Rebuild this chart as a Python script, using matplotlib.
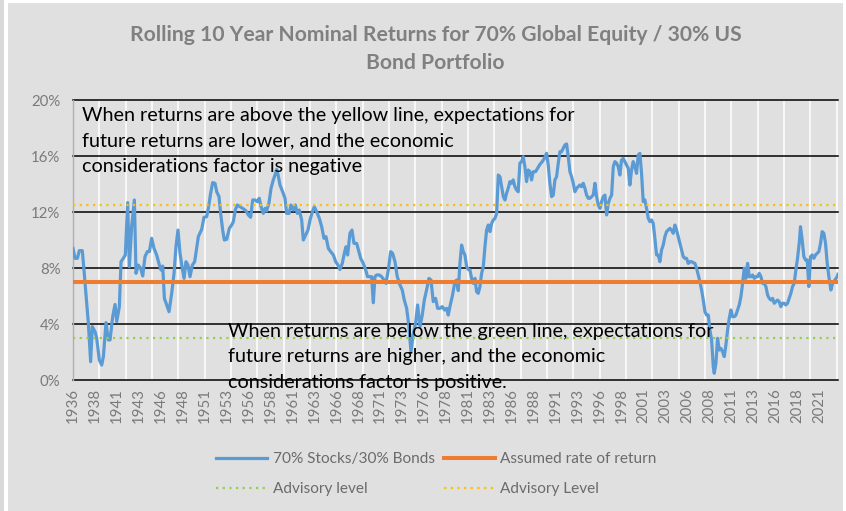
import matplotlib
matplotlib.use("Agg")
import matplotlib.pyplot as plt
from matplotlib.patches import Rectangle
from matplotlib.lines import Line2D

# ---------------- data ----------------
years = [
    1936.00, 1936.23, 1936.50, 1936.72, 1937.06, 1937.25, 1937.56, 1937.75, 1938.01, 1938.20,
    1938.51, 1938.70, 1939.00, 1939.27, 1939.46, 1939.76, 1940.03, 1940.22, 1940.52, 1940.79,
    1940.98, 1941.28, 1941.47, 1941.73, 1941.96, 1942.23, 1942.42, 1942.68, 1942.99, 1943.18,
    1943.44, 1943.71, 1943.94, 1944.20, 1944.47, 1944.70, 1944.96, 1945.23, 1945.53, 1945.84,
    1946.03, 1946.22, 1946.41, 1946.67, 1946.94, 1947.24, 1947.51, 1947.73, 1947.96, 1948.19,
    1948.42, 1948.65, 1948.87, 1949.10, 1949.33, 1949.60, 1949.86, 1950.28, 1950.66, 1950.92,
    1951.23, 1951.42, 1951.68, 1951.91, 1952.18, 1952.37, 1952.63, 1952.82, 1953.05, 1953.24,
    1953.51, 1953.81, 1954.08, 1954.27, 1954.49, 1954.72, 1955.03, 1955.33, 1955.59, 1955.78,
    1955.97, 1956.24, 1956.47, 1956.73, 1957.00, 1957.22, 1957.42, 1957.68, 1957.87, 1958.06,
    1958.33, 1958.56, 1958.82, 1959.01, 1959.20, 1959.39, 1959.58, 1959.88, 1960.15, 1960.34,
    1960.61, 1960.83, 1961.10, 1961.33, 1961.56, 1961.78, 1962.05, 1962.24, 1962.51, 1962.77,
    1963.00, 1963.27, 1963.49, 1963.76, 1964.06, 1964.33, 1964.59, 1964.82, 1965.09, 1965.35,
    1965.66, 1965.92, 1966.19, 1966.41, 1966.68, 1966.91, 1967.10, 1967.29, 1967.55, 1967.78,
    1968.01, 1968.31, 1968.54, 1968.77, 1969.07, 1969.34, 1969.56, 1969.83, 1970.02, 1970.21,
    1970.40, 1970.59, 1970.90, 1971.16, 1971.43, 1971.65, 1971.92, 1972.19, 1972.41, 1972.68,
    1972.94, 1973.25, 1973.51, 1973.74, 1974.01, 1974.27, 1974.50, 1974.77, 1975.03, 1975.26,
    1975.53, 1975.79, 1976.02, 1976.28, 1976.55, 1976.78, 1977.04, 1977.31, 1977.54, 1977.80,
    1978.07, 1978.33, 1978.56, 1978.75, 1978.94,
    1979.24, 1979.51, 1979.70, 1979.89, 1980.08, 1980.27, 1980.46, 1980.65, 1980.84, 1981.03,
    1981.22, 1981.41, 1981.60, 1981.79, 1981.98, 1982.17, 1982.36, 1982.55, 1982.74, 1982.93,
    1983.12, 1983.31, 1983.50, 1983.69, 1983.88, 1984.07, 1984.26, 1984.45, 1984.64, 1984.83,
    1985.02, 1985.21, 1985.39, 1985.58, 1985.77, 1985.96, 1986.15, 1986.34, 1986.53, 1986.72,
    1986.91, 1987.10, 1987.29, 1987.48, 1987.67, 1987.86, 1988.05, 1988.24, 1988.43, 1988.70,
    1988.93, 1989.19, 1989.46, 1989.69, 1989.95, 1990.14, 1990.33, 1990.52, 1990.71, 1990.90,
    1991.09, 1991.28, 1991.47, 1991.66, 1991.85, 1992.04, 1992.23, 1992.42, 1992.61, 1992.80,
    1992.99, 1993.18, 1993.37, 1993.56, 1993.75, 1993.94, 1994.13, 1994.32, 1994.51, 1994.70,
    1994.89, 1995.08, 1995.27, 1995.46, 1995.65, 1995.84, 1996.03, 1996.22, 1996.41, 1996.60,
    1996.79, 1996.98, 1997.17, 1997.36, 1997.55, 1997.74, 1997.93, 1998.11, 1998.30, 1998.49,
    1998.68, 1998.87, 1999.06, 1999.25, 1999.44, 1999.63, 1999.82, 2000.01, 2000.20, 2000.39,
    2000.58, 2000.77, 2000.96, 2001.15, 2001.34, 2001.53, 2001.72, 2001.91, 2002.10, 2002.29,
    2002.48, 2002.67, 2002.86, 2003.05, 2003.24, 2003.43, 2003.62, 2003.81, 2004.00, 2004.19,
    2004.38, 2004.57, 2004.76, 2004.95, 2005.14, 2005.33, 2005.52, 2005.71, 2005.90, 2006.09,
    2006.28, 2006.47, 2006.66, 2006.85, 2007.04, 2007.23, 2007.42, 2007.61, 2007.80, 2007.99,
    2008.18, 2008.37, 2008.56, 2008.75, 2008.94, 2009.05, 2009.24, 2009.43, 2009.62, 2009.81,
    2010.00, 2010.19, 2010.38, 2010.57, 2010.76, 2010.95, 2011.14, 2011.33, 2011.52, 2011.71,
    2011.90, 2012.09, 2012.28, 2012.47, 2012.66, 2012.85, 2013.04, 2013.23, 2013.42, 2013.61,
    2013.80, 2013.99, 2014.18, 2014.37, 2014.56, 2014.75, 2014.94, 2015.13, 2015.32, 2015.51,
    2015.70, 2015.89, 2016.08, 2016.26, 2016.45, 2016.64, 2016.83, 2017.02, 2017.21, 2017.40,
    2017.59, 2017.78, 2017.97, 2018.16, 2018.35, 2018.54, 2018.73, 2018.88, 2019.07, 2019.26,
    2019.45, 2019.64, 2019.83, 2020.02, 2020.21, 2020.40, 2020.59, 2020.78, 2020.97, 2021.16,
    2021.35, 2021.54, 2021.73, 2021.92, 2022.11, 2022.34, 2022.53, 2022.80, 2023.06, 2023.14,
]
returns_pct = [
    9.40, 8.69, 8.69, 9.24, 9.24, 7.86, 5.48, 4.05, 1.31, 3.81,
    3.45, 2.98, 1.43, 1.07, 1.67, 4.10, 2.86, 2.86, 4.52, 5.40,
    4.17, 5.24, 8.45, 8.69, 8.93, 12.67, 8.10, 10.95, 12.86, 7.62,
    8.21, 7.98, 7.43, 8.81, 9.17, 9.17, 10.12, 9.40, 8.93, 8.21,
    7.86, 8.14, 5.83, 5.36, 4.88, 6.19, 7.62, 9.52, 10.71, 9.05,
    8.10, 7.26, 8.45, 8.21, 7.38, 8.21, 8.45, 10.24, 10.76, 11.62,
    11.67, 12.26, 13.33, 14.10, 14.05, 13.45, 13.10, 11.90, 10.71, 10.00,
    10.05, 10.83, 11.07, 11.31, 12.14, 12.50, 12.38, 12.26, 12.14, 12.02,
    11.79, 11.62, 12.86, 12.86, 12.74, 12.98, 12.38, 11.90, 12.26, 12.07,
    12.67, 13.69, 14.29, 14.64, 15.05, 14.57, 13.93, 13.45, 12.98, 11.90,
    11.90, 12.50, 12.14, 12.50, 11.90, 12.14, 11.43, 10.00, 10.36, 10.71,
    11.43, 12.02, 12.38, 12.02, 11.55, 10.95, 10.12, 10.24, 9.40, 9.17,
    8.93, 8.45, 8.21, 7.90, 8.33, 9.05, 9.52, 8.93, 10.48, 10.71,
    9.76, 9.76, 9.24, 8.69, 8.33, 7.86, 7.38, 7.38, 7.38, 5.52,
    7.38, 7.50, 7.50, 7.38, 7.14, 6.90, 7.86, 9.17, 9.05, 8.45,
    7.38, 6.79, 6.43, 5.71, 5.12, 3.81, 2.02, 3.33, 4.05, 5.36,
    3.81, 4.64, 5.71, 6.43, 7.26, 7.14, 5.60, 5.83, 5.12, 5.12,
    5.24, 5.00, 5.12, 4.64, 5.24,
    6.07, 7.02, 7.14, 6.38, 8.33, 9.64, 9.17, 8.93, 8.10, 7.90,
    7.86, 7.26, 6.90, 7.26, 6.31, 6.19, 6.67, 7.62, 8.10, 9.52,
    10.71, 11.07, 10.60, 11.19, 11.43, 11.55, 11.90, 14.64, 14.52, 13.81,
    13.10, 12.86, 13.33, 13.69, 14.17, 14.05, 14.29, 13.81, 13.57, 13.45,
    15.48, 15.60, 15.95, 15.24, 14.17, 15.00, 14.88, 14.29, 14.88, 14.88,
    15.12, 15.40, 15.60, 15.83, 16.19, 15.36, 14.05, 13.10, 13.21, 14.29,
    14.52, 15.48, 16.31, 16.31, 16.55, 16.79, 16.86, 15.95, 14.88, 14.52,
    14.05, 13.45, 13.69, 13.81, 13.93, 13.81, 14.05, 13.69, 13.21, 12.98,
    12.98, 13.10, 13.21, 14.05, 13.10, 12.50, 12.26, 12.74, 13.10, 13.21,
    11.79, 12.62, 12.98, 13.21, 15.24, 15.60, 15.48, 15.24, 14.64, 15.71,
    15.83, 15.60, 15.36, 15.12, 13.93, 15.00, 15.60, 15.24, 14.76, 16.07,
    16.19, 14.76, 12.74, 12.86, 12.26, 11.55, 11.31, 11.43, 11.19, 10.12,
    8.93, 8.93, 8.45, 9.29, 9.64, 10.24, 10.60, 10.71, 10.83, 10.71,
    10.48, 11.07, 10.71, 10.24, 9.76, 9.29, 8.81, 8.69, 8.69, 8.33,
    8.45, 8.45, 8.38, 8.33, 7.98, 7.50, 7.02, 6.43, 5.71, 4.88,
    4.64, 4.64, 3.57, 2.86, 0.95, 0.48, 1.19, 2.98, 2.14, 2.26,
    2.02, 1.67, 2.50, 3.57, 4.40, 5.00, 4.52, 4.52, 4.64, 5.00,
    5.36, 5.95, 6.90, 7.98, 7.26, 8.33, 7.38, 7.38, 7.50, 7.26,
    7.38, 7.38, 7.62, 7.38, 6.90, 6.90, 6.67, 6.07, 5.83, 5.71,
    5.83, 5.48, 5.60, 5.71, 5.60, 5.24, 5.48, 5.48, 5.36, 5.48,
    5.83, 6.19, 6.67, 6.90, 7.86, 8.69, 9.76, 10.95, 10.00, 8.81,
    8.57, 8.57, 6.67, 8.81, 8.93, 8.69, 8.93, 9.05, 9.17, 9.76,
    10.60, 10.48, 9.76, 8.33, 7.38, 6.43, 6.90, 7.14, 7.38, 7.55,
]
assumed_rate = 7.0
advisory_low = 3.0
advisory_high = 12.5

x_label_years = [1936 + 2.5 * k for k in range(35)]
x_labels = [str(int(y)) for y in x_label_years]
v_grid_years = list(range(1939, 2024, 3))
y_ticks = [0, 4, 8, 12, 16, 20]
y_labels = [f"{t}%" for t in y_ticks]

title = "Rolling 10 Year Nominal Returns for 70% Global Equity / 30% US\nBond Portfolio"
note_high = ("When returns are above the yellow line, expectations for\n"
             "future returns are lower, and the economic\n"
             "considerations factor is negative")
note_low = ("When returns are below the green line, expectations for\n"
            "future returns are higher, and the economic\n"
            "considerations factor is positive.")

# ---------------- style ----------------
BG = "#e0e0e0"
FONT = ["Lato", "DejaVu Sans"]
plt.rcParams["font.family"] = FONT

fig = plt.figure(figsize=(8.46, 5.11), dpi=100, facecolor="white")
fig.patches.append(Rectangle((8 / 846, 0), (843 - 8) / 846, (511 - 3) / 511,
                             transform=fig.transFigure, facecolor=BG, edgecolor="none", zorder=-10))
fig.patches.append(Rectangle((0, 0), 4 / 846, 1, transform=fig.transFigure,
                             facecolor="#d9d9d9", edgecolor="none", zorder=-10))

ax = fig.add_axes([73 / 846, (511 - 380) / 511, (838 - 73) / 846, 280 / 511])
ax.set_facecolor(BG)

x0, x1 = 1936.0, 2023.15
ax.set_xlim(x0, x1)
ax.set_ylim(0, 20)

for gy in v_grid_years:
    ax.axvline(gy, color="white", lw=1.1, zorder=1)
for t in y_ticks:
    ax.axhline(t, color="black", lw=1.1, zorder=2, clip_on=False)

ax.plot(years, returns_pct, color="#5b9bd5", lw=2.3, zorder=3, solid_joinstyle="round")
ax.axhline(assumed_rate, color="#ed7d31", lw=2.9, zorder=4)
ax.axhline(advisory_low, color="#92d050", lw=1.6, ls=(0, (1, 2.0)), zorder=4)
ax.axhline(advisory_high, color="#ffc000", lw=1.6, ls=(0, (1, 2.0)), zorder=4)

for s in ["top", "right", "bottom"]:
    ax.spines[s].set_visible(False)
ax.spines["left"].set_color("#b0b0b0")
ax.spines["left"].set_linewidth(1.0)

ax.set_yticks(y_ticks)
ax.set_yticklabels(y_labels)
ax.set_xticks(x_label_years)
ax.set_xticklabels(x_labels, rotation=90)
ax.tick_params(axis="both", length=0, colors="#7a7a7a", labelsize=10.8)
ax.tick_params(axis="y", pad=9)
ax.tick_params(axis="x", pad=6)

ax.text(0.012, 0.9736, note_high, transform=ax.transAxes, ha="left", va="top",
        fontsize=14.2, color="black", linespacing=1.6, zorder=6)
ax.text(0.2026, 0.204, note_low, transform=ax.transAxes, ha="left", va="top",
        fontsize=14.2, color="black", linespacing=1.6, zorder=6, clip_on=False)

fig.text(0.515, 0.952, title, ha="center", va="top", fontsize=15.2, fontweight="bold",
         color="#808080", linespacing=1.5)

handles = [
    Line2D([], [], color="#5b9bd5", lw=2.3),
    Line2D([], [], color="#92d050", lw=1.6, ls=(0, (1, 2.0))),
    Line2D([], [], color="#ed7d31", lw=2.9),
    Line2D([], [], color="#ffc000", lw=1.6, ls=(0, (1, 2.0))),
]
labels = ["70% Stocks/30% Bonds", "Advisory level", "Assumed rate of return", "Advisory Level"]
leg = fig.legend(handles, labels, ncol=2, loc="center", bbox_to_anchor=(0.516, 0.072),
                 frameon=False, fontsize=11.1, handlelength=3.3, handletextpad=0.35,
                 columnspacing=0.6, labelspacing=1.0)
for t in leg.get_texts():
    t.set_color("#6b6b6b")

fig.savefig("out.png", dpi=100, facecolor=fig.get_facecolor())
